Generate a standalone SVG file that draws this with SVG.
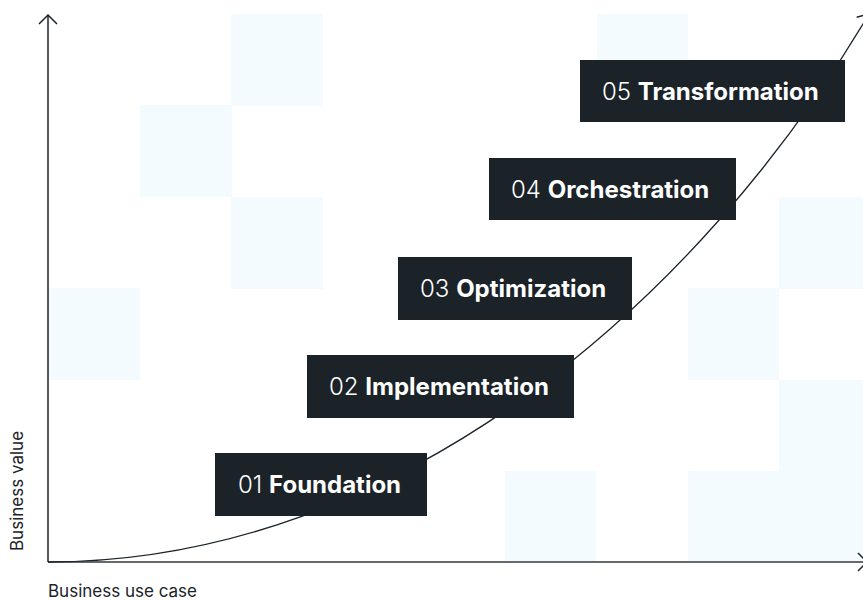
<svg xmlns="http://www.w3.org/2000/svg" width="863" height="601" viewBox="0 0 863 601">
<defs>
<style>
.tile{fill:#F3FBFF}
.box{fill:#1B2329}
.lbl{font-family:Inter,"Noto Sans",sans-serif;font-size:24px;fill:#FFFFFF}
.num{font-weight:300}
.name{font-weight:700}
.axis-title{font-family:Inter,"Noto Sans",sans-serif;font-size:17px;fill:#1B2329}
.axis{fill:none;stroke:#1B2329;stroke-width:1.5}
.xaxis{fill:none;stroke:#666A6D;stroke-width:2}
.curve{fill:none;stroke:#1B2329;stroke-width:1.3}
</style>
<marker id="chev" markerUnits="userSpaceOnUse" viewBox="-12 -12 14 24" markerWidth="14" markerHeight="24" refX="0" refY="0" orient="auto" overflow="visible">
<path d="M-9,-9 L0,0 L-9,9" fill="none" stroke="#1B2329" stroke-width="1.5"/>
</marker>
</defs>
<rect width="863" height="601" fill="#FFFFFF"/>
<g id="background-tiles">
<rect class="tile" x="231" y="14" width="92" height="92"/>
<rect class="tile" x="140" y="105" width="92" height="92"/>
<rect class="tile" x="231" y="197" width="92" height="92"/>
<rect class="tile" x="48" y="288" width="92" height="92"/>
<rect class="tile" x="597" y="14" width="91" height="92"/>
<rect class="tile" x="779" y="197" width="92" height="92"/>
<rect class="tile" x="688" y="288" width="91" height="92"/>
<rect class="tile" x="779" y="380" width="92" height="91"/>
<rect class="tile" x="505" y="471" width="91" height="91"/>
<rect class="tile" x="688" y="471" width="91" height="91"/>
<rect class="tile" x="779" y="471" width="92" height="91"/>
</g>
<g id="connectors">
<path class="xaxis" d="M48,562 H866"/>
<path d="M858,553 L867,562 L858,571" fill="none" stroke="#1B2329" stroke-width="1.5"/>
<path class="axis" d="M48,562 V15" marker-end="url(#chev)"/>
<path class="curve" d="M48,562 C400,562 700,300 869,14" marker-end="url(#chev)"/>
</g>
<g id="node-01">
<rect class="box" x="215" y="453" width="212" height="63"/>
<text class="lbl" x="238" y="493"><tspan class="num">01</tspan> <tspan class="name">Foundation</tspan></text>
</g>
<g id="node-02">
<rect class="box" x="307" y="355" width="267" height="63"/>
<text class="lbl" x="329" y="395"><tspan class="num">02</tspan> <tspan class="name">Implementation</tspan></text>
</g>
<g id="node-03">
<rect class="box" x="398" y="257" width="234" height="63"/>
<text class="lbl" x="420" y="297"><tspan class="num">03</tspan> <tspan class="name">Optimization</tspan></text>
</g>
<g id="node-04">
<rect class="box" x="489" y="158" width="247" height="62"/>
<text class="lbl" x="511" y="197.5"><tspan class="num">04</tspan> <tspan class="name">Orchestration</tspan></text>
</g>
<g id="node-05">
<rect class="box" x="580" y="60" width="265" height="62"/>
<text class="lbl" x="602" y="99.5"><tspan class="num">05</tspan> <tspan class="name">Transformation</tspan></text>
</g>
<g id="axis-labels">
<text class="axis-title" x="48" y="597">Business use case</text>
<text class="axis-title" transform="translate(23,551) rotate(-90)">Business value</text>
</g>
</svg>
